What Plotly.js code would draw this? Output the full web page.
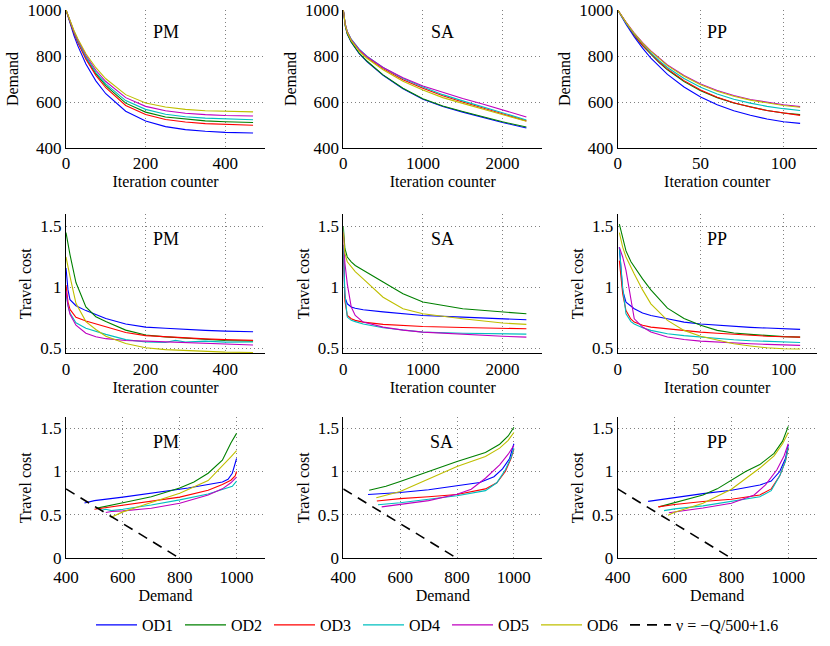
<!DOCTYPE html>
<html>
<head>
<meta charset="utf-8">
<script src="https://cdn.plot.ly/plotly-3.0.1.min.js"></script>
<style>html,body{margin:0;padding:0;background:#fff;}#chart{width:830px;height:646px;}</style>
</head>
<body>
<div id="chart"></div>
<script>
// ---------------- DATA ----------------
const seriesNames = ['OD1', 'OD2', 'OD3', 'OD4', 'OD5', 'OD6'];
const methods = ['PM', 'SA', 'PP'];

// Row 1: Demand vs iteration counter
const pmIterDemand = [0, 10, 20, 30, 50, 75, 100, 150, 200, 250, 300, 350, 400, 470];
const pmDemand = [
  [1000, 941, 889, 843, 765, 692, 636, 560, 517, 493, 480, 473, 468, 465],
  [1000, 948, 902, 861, 791, 723, 671, 595, 556, 535, 525, 518, 514, 511],
  [1000, 947, 900, 858, 786, 716, 662, 585, 546, 524, 513, 506, 502, 499],
  [1000, 950, 905, 864, 796, 729, 679, 606, 568, 547, 536, 530, 526, 523],
  [1000, 951, 908, 869, 803, 738, 689, 619, 581, 562, 551, 545, 541, 539],
  [1000, 953, 911, 874, 810, 749, 701, 632, 596, 578, 568, 562, 559, 557]
];
const saIterDemand = [0, 10, 25, 50, 100, 200, 300, 500, 750, 1000, 1250, 1500, 1750, 2000, 2300];
const saDemand = [
  [1000, 960, 930, 895, 860, 810, 775, 716, 658, 612, 580, 556, 533, 511, 487],
  [1000, 961, 931, 896, 861, 812, 777, 718, 660, 614, 583, 559, 536, 514, 491],
  [1000, 965, 937, 905, 870, 825, 793, 745, 697, 660, 627, 600, 575, 550, 518],
  [1000, 966, 938, 907, 873, 830, 798, 750, 702, 665, 632, 605, 580, 554, 522],
  [1000, 965, 937, 905, 871, 828, 797, 750, 705, 670, 641, 615, 591, 565, 535],
  [1000, 964, 934, 902, 867, 821, 789, 740, 690, 652, 619, 594, 570, 545, 516]
];
const ppIterDemand = [0, 5, 10, 15, 20, 25, 30, 40, 50, 60, 70, 80, 90, 100, 110];
const ppDemand = [
  [1000, 938, 883, 834, 791, 754, 720, 665, 622, 588, 562, 542, 526, 514, 507],
  [1000, 942, 890, 845, 806, 771, 740, 689, 649, 619, 596, 578, 563, 552, 545],
  [1000, 943, 892, 847, 809, 775, 744, 693, 652, 621, 597, 578, 563, 551, 542],
  [1000, 944, 895, 852, 814, 780, 750, 702, 664, 635, 612, 595, 581, 571, 563],
  [1000, 947, 900, 858, 822, 790, 761, 715, 678, 650, 628, 611, 598, 588, 580],
  [1000, 946, 898, 856, 820, 787, 758, 712, 675, 647, 625, 608, 595, 585, 577]
];

// Row 2: Travel cost vs iteration counter
const pmIterCost = [0, 5, 10, 25, 50, 75, 100, 150, 200, 250, 275, 300, 350, 400, 470];
const pmCost = [
  [1.16, 0.98, 0.90, 0.85, 0.81, 0.775, 0.745, 0.70, 0.675, 0.665, 0.66, 0.655, 0.648, 0.642, 0.637],
  [1.45, 1.36, 1.27, 1.04, 0.84, 0.76, 0.72, 0.65, 0.61, 0.595, 0.59, 0.585, 0.575, 0.565, 0.56],
  [1.02, 0.88, 0.82, 0.755, 0.725, 0.70, 0.675, 0.63, 0.605, 0.595, 0.59, 0.585, 0.578, 0.572, 0.566],
  [0.95, 0.85, 0.79, 0.71, 0.665, 0.64, 0.615, 0.572, 0.553, 0.548, 0.566, 0.553, 0.56, 0.552, 0.553],
  [0.97, 0.85, 0.78, 0.69, 0.625, 0.595, 0.58, 0.565, 0.56, 0.555, 0.55, 0.545, 0.54, 0.535, 0.528],
  [1.25, 1.16, 1.09, 0.87, 0.72, 0.655, 0.60, 0.54, 0.505, 0.49, 0.486, 0.482, 0.475, 0.47, 0.466]
];
const saIterCost = [0, 20, 50, 100, 150, 250, 500, 750, 1000, 1500, 2000, 2300];
const saCost = [
  [1.30, 0.92, 0.866, 0.84, 0.83, 0.817, 0.80, 0.785, 0.77, 0.757, 0.74, 0.735],
  [1.50, 1.32, 1.25, 1.21, 1.18, 1.14, 1.044, 0.948, 0.88, 0.825, 0.798, 0.784],
  [1.35, 0.89, 0.77, 0.743, 0.73, 0.716, 0.697, 0.688, 0.68, 0.672, 0.667, 0.661],
  [1.35, 0.95, 0.757, 0.73, 0.72, 0.70, 0.67, 0.65, 0.634, 0.625, 0.62, 0.617],
  [1.45, 1.20, 1.03, 0.84, 0.77, 0.716, 0.675, 0.65, 0.634, 0.615, 0.60, 0.593],
  [1.45, 1.28, 1.21, 1.17, 1.13, 1.07, 0.92, 0.825, 0.784, 0.743, 0.708, 0.697]
];
const ppIterCost = [1, 3, 5, 8, 10, 15, 20, 30, 40, 50, 60, 70, 80, 90, 100, 110];
const ppCost = [
  [1.33, 0.975, 0.88, 0.845, 0.825, 0.79, 0.77, 0.743, 0.716, 0.70, 0.69, 0.68, 0.673, 0.667, 0.66, 0.656],
  [1.52, 1.40, 1.30, 1.21, 1.167, 1.07, 0.98, 0.83, 0.745, 0.69, 0.648, 0.626, 0.615, 0.605, 0.597, 0.593],
  [1.22, 0.95, 0.81, 0.74, 0.716, 0.69, 0.675, 0.661, 0.645, 0.634, 0.624, 0.615, 0.607, 0.60, 0.596, 0.593],
  [1.33, 1.00, 0.784, 0.72, 0.70, 0.67, 0.648, 0.62, 0.605, 0.593, 0.58, 0.571, 0.563, 0.557, 0.552, 0.549],
  [1.33, 1.25, 1.14, 0.90, 0.743, 0.675, 0.634, 0.593, 0.573, 0.56, 0.551, 0.544, 0.538, 0.533, 0.529, 0.525],
  [1.45, 1.33, 1.25, 1.16, 1.11, 0.98, 0.866, 0.73, 0.648, 0.60, 0.566, 0.538, 0.52, 0.505, 0.497, 0.495]
];

// Row 3: Travel cost vs demand
const pmCurveDemand = [
  [465, 500, 600, 700, 800, 830, 900, 950, 970, 985, 1000],
  [505, 560, 600, 700, 800, 850, 900, 950, 980, 1000],
  [500, 550, 600, 700, 800, 900, 950, 980, 995, 1000],
  [524, 540, 560, 600, 700, 800, 900, 950, 985, 1000],
  [540, 560, 600, 700, 800, 900, 950, 980, 1000],
  [557, 600, 700, 800, 900, 950, 980, 1000]
];
const pmCurveCost = [
  [0.637, 0.665, 0.705, 0.75, 0.80, 0.81, 0.85, 0.88, 0.91, 0.98, 1.15],
  [0.575, 0.61, 0.64, 0.71, 0.81, 0.88, 0.98, 1.13, 1.33, 1.44],
  [0.566, 0.59, 0.615, 0.665, 0.705, 0.785, 0.85, 0.90, 0.95, 1.0],
  [0.553, 0.565, 0.55, 0.565, 0.615, 0.673, 0.742, 0.79, 0.83, 0.89],
  [0.528, 0.54, 0.546, 0.577, 0.635, 0.73, 0.80, 0.87, 0.935],
  [0.47, 0.535, 0.642, 0.75, 0.896, 1.06, 1.17, 1.24]
];
const saCurveDemand = [
  [487, 550, 600, 700, 800, 880, 930, 960, 985, 1000],
  [491, 550, 600, 700, 800, 900, 950, 980, 1000],
  [518, 600, 700, 800, 900, 940, 970, 990, 1000],
  [522, 600, 700, 800, 900, 940, 970, 990, 1000],
  [535, 600, 700, 800, 850, 900, 950, 980, 1000],
  [516, 600, 700, 800, 900, 950, 980, 1000]
];
const saCurveCost = [
  [0.735, 0.745, 0.758, 0.79, 0.835, 0.873, 0.94, 1.03, 1.15, 1.32],
  [0.784, 0.83, 0.885, 1.0, 1.115, 1.22, 1.315, 1.41, 1.51],
  [0.661, 0.688, 0.71, 0.735, 0.80, 0.87, 1.0, 1.15, 1.26],
  [0.617, 0.64, 0.68, 0.72, 0.78, 0.87, 1.02, 1.16, 1.27],
  [0.593, 0.623, 0.665, 0.738, 0.796, 0.923, 1.077, 1.2, 1.30],
  [0.697, 0.77, 0.915, 1.058, 1.173, 1.27, 1.36, 1.45]
];
const ppCurveDemand = [
  [507, 600, 700, 800, 900, 940, 970, 990, 1000],
  [545, 600, 650, 700, 750, 800, 850, 900, 950, 980, 1000],
  [542, 600, 700, 800, 900, 940, 970, 990, 1000],
  [563, 600, 700, 800, 900, 940, 970, 990, 1000],
  [580, 700, 800, 880, 920, 960, 985, 1000],
  [577, 600, 700, 800, 900, 950, 980, 1000]
];
const ppCurveCost = [
  [0.656, 0.70, 0.745, 0.785, 0.845, 0.89, 1.0, 1.15, 1.31],
  [0.593, 0.64, 0.68, 0.73, 0.80, 0.90, 1.0, 1.08, 1.21, 1.35, 1.52],
  [0.593, 0.62, 0.655, 0.68, 0.73, 0.80, 0.95, 1.12, 1.27],
  [0.549, 0.57, 0.604, 0.654, 0.71, 0.78, 0.95, 1.12, 1.28],
  [0.525, 0.58, 0.635, 0.73, 0.846, 1.02, 1.18, 1.32],
  [0.495, 0.53, 0.635, 0.796, 1.04, 1.18, 1.32, 1.45]
];

// Reference line  v = -Q/500 + 1.6
const refLineName = 'ν = −Q/500+1.6';
const refLineQ = [400, 800];
const refLineNu = [0.8, 0];

// ---------------- STYLE ----------------
const colors = ['#0000ff', '#008000', '#ff0000', '#00bfbf', '#bf00bf', '#bfbf00'];
const FONT = 'Liberation Serif, Times New Roman, serif';

const colDomains = [[66 / 830, 265 / 830], [343.3 / 830, 542.3 / 830], [617.7 / 830, 816.7 / 830]];
const rowDomains = [[1 - 148 / 646, 1 - 10 / 646], [1 - 353.3 / 646, 1 - 214.3 / 646], [1 - 558.3 / 646, 1 - 417.3 / 646]];

const panels = [
  {iter: pmIterDemand, ys: pmDemand}, {iter: saIterDemand, ys: saDemand}, {iter: ppIterDemand, ys: ppDemand},
  {iter: pmIterCost, ys: pmCost}, {iter: saIterCost, ys: saCost}, {iter: ppIterCost, ys: ppCost},
  {xs: pmCurveDemand, ys: pmCurveCost}, {xs: saCurveDemand, ys: saCurveCost}, {xs: ppCurveDemand, ys: ppCurveCost}
];
const xRanges = [[0, 500], [0, 2500], [0, 120]];
const xDticks = [200, 1000, 50];

const traces = [];
const layout = {
  width: 830, height: 646,
  margin: {l: 0, r: 0, t: 0, b: 0},
  paper_bgcolor: '#fff', plot_bgcolor: '#fff',
  font: {family: FONT, size: 16, color: '#000'},
  showlegend: true,
  legend: {
    orientation: 'h', x: 91 / 830, xanchor: 'left', y: 1 - 625 / 646, yanchor: 'middle',
    font: {family: FONT, size: 16, color: '#000'},
    itemwidth: 41, entrywidth: 33, bgcolor: 'rgba(0,0,0,0)', traceorder: 'normal'
  },
  annotations: []
};

const axisBase = {
  showline: true, linecolor: '#000', linewidth: 1, mirror: false,
  showgrid: true, gridcolor: '#808080', griddash: '1px,3px', gridwidth: 1,
  zeroline: false, ticks: '', tickfont: {family: FONT, size: 17, color: '#000'},
  fixedrange: true
};

panels.forEach((p, i) => {
  const r = Math.floor(i / 3), c = i % 3, n = i + 1;
  const xa = 'x' + (n === 1 ? '' : n), ya = 'y' + (n === 1 ? '' : n);
  p.ys.forEach((yv, k) => {
    traces.push({
      x: p.iter ? p.iter : p.xs[k], y: yv, xaxis: xa, yaxis: ya,
      type: 'scatter', mode: 'lines', name: seriesNames[k], legendgroup: seriesNames[k],
      showlegend: i === 0, line: {color: colors[k], width: 1.1}, hoverinfo: 'skip'
    });
  });
  const xKey = 'xaxis' + (n === 1 ? '' : n), yKey = 'yaxis' + (n === 1 ? '' : n);
  if (r < 2) {
    layout[xKey] = Object.assign({}, axisBase, {domain: colDomains[c], anchor: ya, range: xRanges[c], dtick: xDticks[c], tick0: 0,
      title: {text: 'Iteration counter', font: {family: FONT, size: 16}, standoff: 2}});
  } else {
    layout[xKey] = Object.assign({}, axisBase, {domain: colDomains[c], anchor: ya, range: [400, 1100], dtick: 200, tick0: 0,
      ticklabelstandoff: 3,
      title: {text: 'Demand', font: {family: FONT, size: 16}, standoff: 0}});
  }
  if (r === 0) {
    layout[yKey] = Object.assign({}, axisBase, {domain: rowDomains[r], anchor: xa, range: [400, 1000], dtick: 200, tick0: 0,
      title: {text: 'Demand', font: {family: FONT, size: 16}, standoff: 4}});
  } else if (r === 1) {
    layout[yKey] = Object.assign({}, axisBase, {domain: rowDomains[r], anchor: xa, range: [0.46, 1.6],
      tickvals: [0.5, 1, 1.5], ticktext: ['0.5', '1', '1.5'],
      title: {text: 'Travel cost', font: {family: FONT, size: 16}, standoff: 4}});
  } else {
    layout[yKey] = Object.assign({}, axisBase, {domain: rowDomains[r], anchor: xa, range: [0, 1.625],
      tickvals: [0, 0.5, 1, 1.5], ticktext: ['0', '0.5', '1', '1.5'],
      title: {text: 'Travel cost', font: {family: FONT, size: 16}, standoff: 4}});
  }
  // method label
  const labelX = [[250, 1247, 60], [250, 1247, 60], [750, 747, 749]][r][c];
  const labelY = [904, 1.40, 1.34][r];
  layout.annotations.push({
    text: methods[c], x: labelX, y: labelY, xref: xa, yref: ya, showarrow: false,
    font: {family: FONT, size: 18, color: '#000'}, xanchor: 'center', yanchor: 'middle'
  });
  if (r === 2) {
    traces.push({
      x: refLineQ, y: refLineNu, xaxis: xa, yaxis: ya, type: 'scatter', mode: 'lines',
      name: refLineName, legendgroup: 'ref', showlegend: c === 0, legendwidth: 130,
      line: {color: '#000', width: 1.6, dash: '10px,7px'}, hoverinfo: 'skip'
    });
  }
});

Plotly.newPlot('chart', traces, layout, {staticPlot: true, displayModeBar: false});
</script>
</body>
</html>
